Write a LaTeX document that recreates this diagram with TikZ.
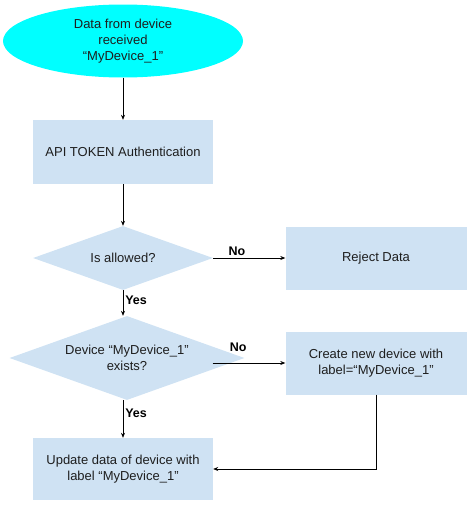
\documentclass[tikz,border=0pt]{standalone}
\usepackage{fontspec}
\setmainfont{Liberation Sans}
\usetikzlibrary{shapes.geometric,positioning,arrows.meta}
\definecolor{boxblue}{HTML}{CFE2F3}
\definecolor{aqua}{RGB}{0,255,255}
\definecolor{txtgray}{HTML}{1E1E1E}
\tikzstyle{edge} = [draw,semithick,-{Stealth[length=5pt,width=4pt]}]
\tikzstyle{lbl} = [font=\bfseries\fontsize{12.5}{14}\selectfont,text=black,inner sep=2pt]
\tikzstyle{block} = [rectangle,fill=boxblue,minimum width=180pt,align=center]
\tikzstyle{decision} = [diamond,fill=boxblue,aspect=2.8,inner sep=0pt,align=center]

\begin{document}
\begin{tikzpicture}[x=1pt,y=1pt,on grid,
    every node/.style={font=\fontsize{13}{16}\selectfont,text=txtgray}]
   \useasboundingbox (0,0) rectangle (476,-506);
   \node[ellipse,fill=aqua,minimum width=240pt,minimum height=73pt,inner sep=0pt,align=center]
      (received) at (123,-41) {Data from device\\received\\``MyDevice\_1''};
   \node[block,minimum height=64pt] (auth) [below=111pt of received] {API TOKEN Authentication};
   \node[decision,minimum width=180pt,minimum height=64pt] (allowed) [below=106pt of auth] {Is allowed?};
   \node[block,minimum width=181pt,minimum height=63pt] (reject) [right=253pt of allowed] {Reject Data};
   \node[decision,minimum width=235pt,minimum height=84pt] (exists) [below=100pt of allowed,xshift=4pt] {Device ``MyDevice\_1''\\exists?};
   \node[block,minimum width=181pt,minimum height=63pt] (create) [below=105pt of reject] {Create new device with\\label=``MyDevice\_1''};
   \node[block,minimum height=62pt] (update) [below=211pt of allowed] {Update data of device with\\label ``MyDevice\_1''};

   \path[edge] (received) -- (auth);
   \path[edge] (auth) -- (allowed);
   \path[edge] (allowed) -- node[lbl,pos=0.33,above] {No} (reject);
   \path[edge] (allowed.south) -- node[lbl,pos=0.4,right] {Yes} (allowed.south |- exists.north);
   \path[edge] ([xshift=-32pt,yshift=-5pt]exists.east) -- node[lbl,pos=0.35,above=9pt] {No} (create.west);
   \path[edge] (allowed.south |- exists.south) -- node[lbl,pos=0.35,right] {Yes} (allowed.south |- update.north);
   \path[edge] (create.south) |- (update.east);
\end{tikzpicture}
\end{document}
